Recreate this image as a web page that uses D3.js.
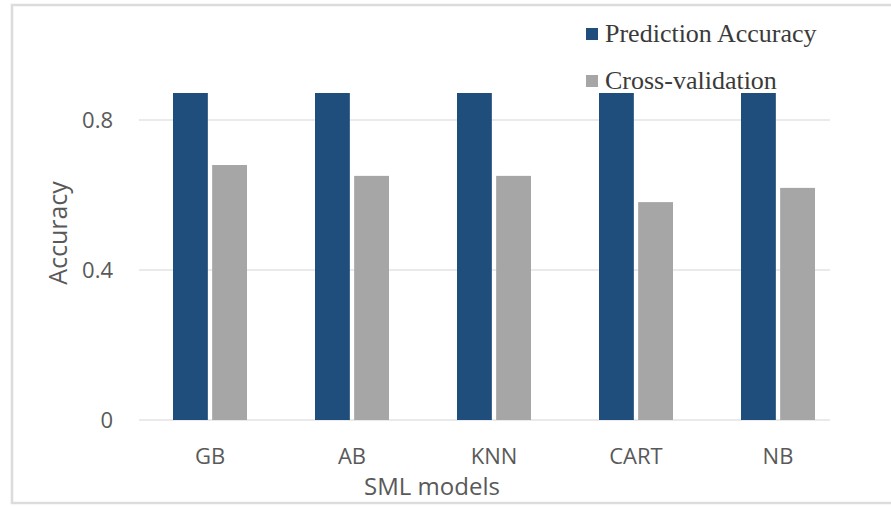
<!DOCTYPE html>
<html><head><meta charset="utf-8">
<script src="https://cdn.jsdelivr.net/npm/d3@7/dist/d3.min.js"></script>
<style>body{margin:0;background:#fff}svg{display:block}</style>
</head><body>
<svg id="c" width="891" height="508"></svg>
<script>
const categories = ["GB", "AB", "KNN", "CART", "NB"];
const seriesNames = ["Prediction Accuracy", "Cross-validation"];
const predictionAccuracy = [0.872, 0.872, 0.872, 0.872, 0.872];
const crossValidation = [0.68, 0.651, 0.651, 0.581, 0.619];
const yTicks = [0, 0.4, 0.8];
const tickLabels = ["0", "0.4", "0.8"];
const colors = ["#1f4e7d", "#a6a6a6"];

const svg = d3.select("#c");
// frame
svg.append("rect").attr("x", 12).attr("y", 5).attr("width", 885).attr("height", 498)
  .attr("fill", "none").attr("stroke", "#dcdcdc").attr("stroke-width", 2.5);

const x = d3.scaleBand().domain(categories).range([139, 849]);
const y = d3.scaleLinear().domain([0, 0.88]).range([420, 90]);
const x1 = d3.scaleBand().domain(seriesNames).range([-37, 37]).paddingInner(0.11);

// gridlines
svg.append("g").selectAll("line").data(yTicks).join("line")
  .attr("x1", 139).attr("x2", 830)
  .attr("y1", d => y(d)).attr("y2", d => y(d))
  .attr("stroke", "#e3e3e3").attr("stroke-width", 1.3);

const sans = "'Open Sans', sans-serif";
// y axis
const yAxis = d3.axisLeft(y).tickValues(yTicks).tickFormat((d, i) => tickLabels[i]).tickSize(0).tickPadding(0);
const ya = svg.append("g").attr("transform", "translate(113,0)").call(yAxis);
ya.select(".domain").remove();
ya.selectAll("text").attr("font-family", sans).attr("font-size", 22).attr("fill", "#595959");

// x axis
const xAxis = d3.axisBottom(x).tickSize(0).tickPadding(0);
const xa = svg.append("g").attr("transform", "translate(0,448)").call(xAxis);
xa.select(".domain").remove();
xa.selectAll("text").attr("font-family", sans).attr("font-size", 22).attr("fill", "#595959");

// bars
const data = categories.map((c, i) => ({c, vals: [predictionAccuracy[i], crossValidation[i]]}));
const groups = svg.append("g").selectAll("g").data(data).join("g")
  .attr("transform", d => `translate(${x(d.c) + x.bandwidth() / 2},0)`);
groups.selectAll("rect").data(d => d.vals.map((v, j) => ({v, s: seriesNames[j], j}))).join("rect")
  .attr("x", d => x1(d.s)).attr("width", x1.bandwidth())
  .attr("y", d => y(d.v)).attr("height", d => y(0) - y(d.v))
  .attr("fill", d => colors[d.j]);

// axis titles
svg.append("text").attr("x", 432).attr("y", 495).attr("text-anchor", "middle")
  .attr("font-family", sans).attr("font-size", 24).attr("fill", "#595959").text("SML models");
svg.append("text").attr("transform", "translate(67,233) rotate(-90)").attr("text-anchor", "middle")
  .attr("font-family", sans).attr("font-size", 25).attr("fill", "#595959").text("Accuracy");

// legend
const leg = svg.append("g").selectAll("g").data(seriesNames).join("g")
  .attr("transform", (d, i) => `translate(586,${28 + i * 47})`);
leg.append("rect").attr("width", 12).attr("height", 12).attr("fill", (d, i) => colors[i]);
leg.append("text").attr("x", 19).attr("y", 14).attr("font-family", "'Liberation Serif', serif")
  .attr("font-size", 26).attr("fill", "#3a3a3a").text(d => d);
</script>
</body></html>
